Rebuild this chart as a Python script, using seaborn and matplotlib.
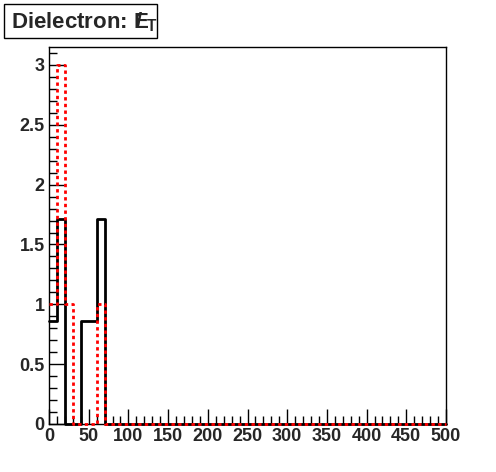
import numpy as np
import pandas as pd
import matplotlib
matplotlib.use("Agg")
import matplotlib.pyplot as plt
from matplotlib.ticker import MultipleLocator
import seaborn as sns

# histogram bins (10 units wide, 0..500)
bin_width = 10
bin_centers = np.arange(5, 500, bin_width)

# black solid histogram (first 7 bins, rest zero)
black_first = [0.857, 1.714, 0.0, 0.0, 0.857, 0.857, 1.714]
# red dotted histogram
red_first = [1.0, 3.0, 1.0, 0.0, 0.0, 0.0, 1.0]

black_vals = np.zeros(50)
black_vals[:len(black_first)] = black_first
red_vals = np.zeros(50)
red_vals[:len(red_first)] = red_first

df = pd.DataFrame({"met": bin_centers, "black": black_vals, "red": red_vals})

sns.set_style("white")
plt.rcParams['font.family'] = ['Liberation Sans', 'DejaVu Sans']
plt.rcParams['mathtext.fontset'] = 'custom'
plt.rcParams['mathtext.rm'] = 'Liberation Sans:bold'
plt.rcParams['mathtext.bf'] = 'Liberation Sans:bold'
plt.rcParams['mathtext.it'] = 'Liberation Sans:bold'

fig = plt.figure(figsize=(4.96, 4.72), dpi=100)
ax = fig.add_axes([49 / 496, 48 / 472, 397 / 496, 377 / 472])

sns.histplot(data=df, x="met", weights="black", binwidth=bin_width, binrange=(0, 500),
             element="step", fill=False, color="black", linewidth=2, ax=ax)
sns.histplot(data=df, x="met", weights="red", binwidth=bin_width, binrange=(0, 500),
             element="step", fill=False, color="red", linewidth=2,
             linestyle=(0, (1.2, 1.2)), ax=ax)
for ln in ax.lines + list(ax.patches) + list(ax.collections):
    ln.set_zorder(3)
    ln.set_clip_on(False)

ax.set_xlim(0, 500)
ax.set_ylim(0, 3.15)
ax.set_xlabel("")
ax.set_ylabel("")

ax.xaxis.set_major_locator(MultipleLocator(50))
ax.xaxis.set_minor_locator(MultipleLocator(10))
ax.yaxis.set_minor_locator(MultipleLocator(0.1))
ax.tick_params(which="both", direction="in", bottom=True, left=True, top=False, right=False,
               width=1, color="black")
ax.tick_params(which="major", length=11, labelsize=13, pad=3)
ax.tick_params(which="minor", length=6)
ax.set_yticks(np.arange(0, 3.01, 0.5))
ax.set_yticklabels(["0", "0.5", "1", "1.5", "2", "2.5", "3"])
for lab in ax.get_xticklabels() + ax.get_yticklabels():
    lab.set_fontweight("bold")

for sp in ax.spines.values():
    sp.set_color("black")
    sp.set_linewidth(1)

# title box
fig.patches.append(plt.Rectangle((4 / 496, 1 - 38 / 472), 153 / 496, 34 / 472,
                                 transform=fig.transFigure, facecolor="white",
                                 edgecolor="black", linewidth=1))
fig.text(11 / 496, 1 - 22 / 472, r"Dielectron: $E\!\!\!\!/\;{}_T$", fontsize=16,
         fontweight="bold", va="center", ha="left")

fig.savefig("out.png", dpi=100)
